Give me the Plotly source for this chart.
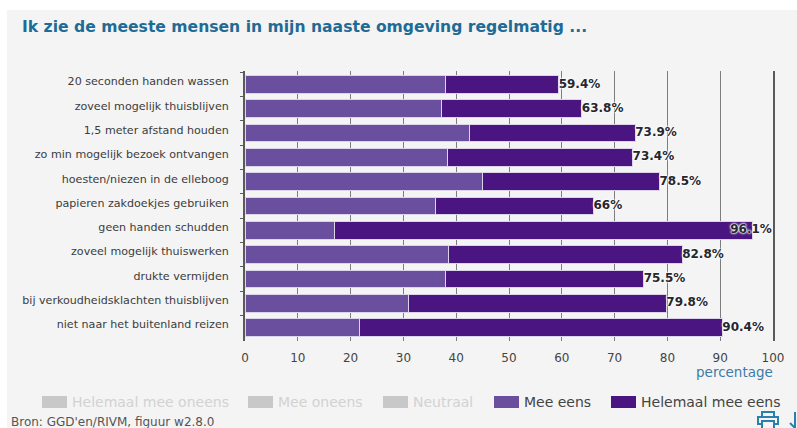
import plotly.graph_objects as go

W, H = 797, 428
PLOT_L, PLOT_R, PLOT_T, PLOT_B = 245, 773, 71, 341

categories = [
    "20 seconden handen wassen",
    "zoveel mogelijk thuisblijven",
    "1,5 meter afstand houden",
    "zo min mogelijk bezoek ontvangen",
    "hoesten/niezen in de elleboog",
    "papieren zakdoekjes gebruiken",
    "geen handen schudden",
    "zoveel mogelijk thuiswerken",
    "drukte vermijden",
    "bij verkoudheidsklachten thuisblijven",
    "niet naar het buitenland reizen",
]
mee_eens = [38.0, 37.2, 42.5, 38.3, 45.0, 36.0, 17.0, 38.6, 38.0, 31.0, 21.7]
totaal = [59.4, 63.8, 73.9, 73.4, 78.5, 66, 96.1, 82.8, 75.5, 79.8, 90.4]
helemaal_mee_eens = [round(t - m, 1) for t, m in zip(totaal, mee_eens)]
totaal_labels = [f"{t:g}%" for t in totaal]

PURPLE_LIGHT = "#6a4f9f"
PURPLE_DARK = "#4a1580"
BAR_EDGE = "#dcd4ea"
BLUE = "#1f6b96"
LABEL_MAX_X = 91.9  # labels start no further right so they stay inside the axis


# paper coordinates are relative to the plot area, so page pixels are converted
def px(x):
    return (x - PLOT_L) / (PLOT_R - PLOT_L)


def py(y):
    return (PLOT_B - y) / (PLOT_B - PLOT_T)


def note(text, x, y, anchor, size, color):
    return dict(text=text, xref="paper", yref="paper", x=px(x), y=py(y),
                xanchor=anchor, yanchor="middle", showarrow=False,
                font=dict(family="DejaVu Sans", size=size, color=color))


fig = go.Figure()
fig.add_trace(go.Bar(
    y=categories, x=mee_eens, orientation="h", name="Mee eens",
    marker=dict(color=PURPLE_LIGHT, line=dict(color=BAR_EDGE, width=1)),
))
fig.add_trace(go.Bar(
    y=categories, x=helemaal_mee_eens, orientation="h", name="Helemaal mee eens",
    marker=dict(color=PURPLE_DARK, line=dict(color=BAR_EDGE, width=1)),
))
fig.add_trace(go.Scatter(
    y=categories, x=[min(t, LABEL_MAX_X) for t in totaal], mode="text", text=totaal_labels,
    textposition="middle right", cliponaxis=False,
    textfont=dict(family="DejaVu Sans", size=12, color="#26262e", weight="bold",
                  shadow="0 0 1px #ffffff, 0 0 2px #ffffff, 0 0 2px #ffffff, 0 0 3px #ffffff"),
))

shapes = [
    # panel behind the whole figure
    dict(type="rect", xref="paper", yref="paper", layer="below",
         x0=px(7), x1=px(W), y0=py(H), y1=py(10),
         fillcolor="#f4f4f4", line=dict(width=0)),
]
annotations = [
    note("<b>Ik zie de meeste mensen in mijn naaste omgeving regelmatig ...</b>",
         20, 27, "left", 15.6, BLUE),
    note("percentage", 775, 372, "right", 13.5, "#3f7ba8"),
    note("Bron: GGD'en/RIVM, figuur w2.8.0", 9, 422, "left", 12, "#555555"),
]

# legend row: swatch left edge, label, swatch colour, text colour
legend_items = [
    (42, "Helemaal mee oneens", "#c8c8c8", "#d2d2d2"),
    (248, "Mee oneens", "#c8c8c8", "#d2d2d2"),
    (383, "Neutraal", "#c8c8c8", "#d2d2d2"),
    (494, "Mee eens", PURPLE_LIGHT, "#444444"),
    (611, "Helemaal mee eens", PURPLE_DARK, "#444444"),
]
for left, label, swatch, ink in legend_items:
    shapes.append(dict(type="rect", xref="paper", yref="paper",
                       x0=px(left), x1=px(left + 25), y0=py(408), y1=py(396),
                       fillcolor=swatch, line=dict(width=0)))
    annotations.append(note(label, left + 28, 402, "left", 14, ink))

# printer and download icons in the corner
ICON = "#2a7fab"
for x0, y0, x1, y1 in [(762, 412, 774, 417), (758, 417, 778, 424), (762, 421, 774, 429)]:
    shapes.append(dict(type="rect", xref="paper", yref="paper",
                       x0=px(x0), x1=px(x1), y0=py(y1), y1=py(y0),
                       fillcolor="#f4f4f4", line=dict(color=ICON, width=2)))
shapes.append(dict(type="line", xref="paper", yref="paper",
                   x0=px(795), x1=px(795), y0=py(428), y1=py(412),
                   line=dict(color=ICON, width=2)))
shapes.append(dict(type="line", xref="paper", yref="paper",
                   x0=px(790), x1=px(795), y0=py(423), y1=py(428),
                   line=dict(color=ICON, width=2)))

fig.update_layout(
    width=W, height=H, barmode="stack", bargap=0.27, showlegend=False,
    margin=dict(l=PLOT_L, r=W - PLOT_R, t=PLOT_T, b=H - PLOT_B, pad=0),
    paper_bgcolor="#ffffff", plot_bgcolor="rgba(0,0,0,0)",
    shapes=shapes, annotations=annotations,
    xaxis=dict(range=[0, 100], dtick=10, showgrid=True, gridcolor="#7d7d7d",
               gridwidth=1, zeroline=False, showline=False, ticks="",
               tickfont=dict(family="DejaVu Sans", size=12, color="#444444"),
               ticklabelstandoff=8),
    yaxis=dict(autorange="reversed", type="category", showline=True, mirror=True,
               linecolor="#5a5a5a", linewidth=2, ticks="outside", tickson="boundaries",
               ticklen=3, tickcolor="#5a5a5a", showgrid=False,
               tickfont=dict(family="DejaVu Sans", size=11.1, color="#3c3c3c"),
               ticklabelstandoff=12, ticklabelshift=3),
)

fig.write_html("out.html")
